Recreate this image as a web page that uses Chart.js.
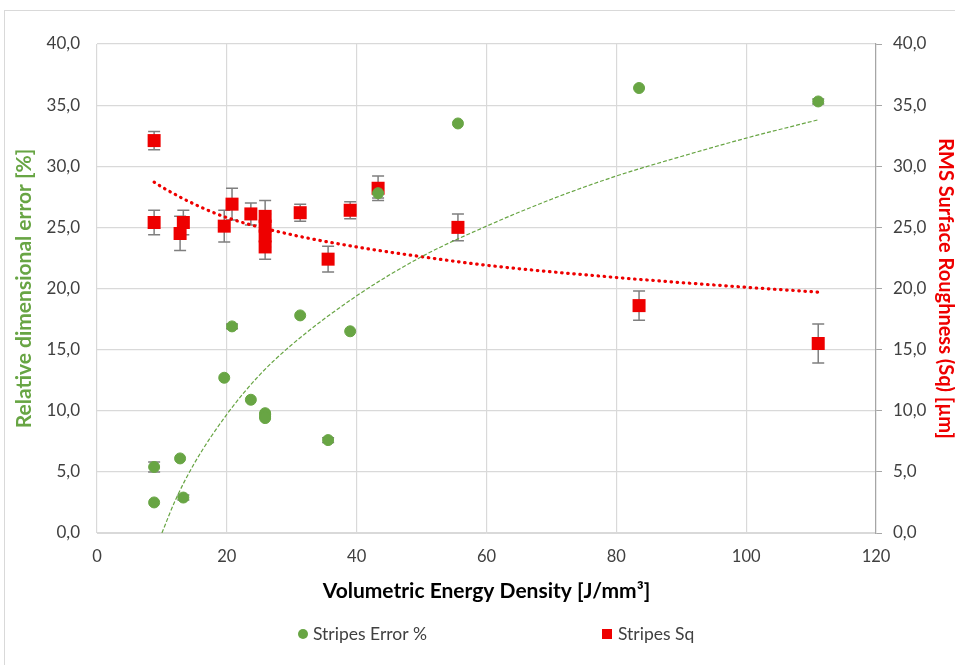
<!DOCTYPE html>
<html>
<head>
<meta charset="utf-8">
<script src="https://cdn.jsdelivr.net/npm/chart.js@4.4.1/dist/chart.umd.min.js"></script>
<style>
  html, body { margin: 0; padding: 0; background: #fff; overflow: hidden; }
  #wrap { position: relative; width: 955px; height: 665px; }
  #frame { position: absolute; left: 4px; top: 10px; width: 1000px; height: 700px; border: 1px solid #d9d9d9; }
  canvas { position: absolute; left: 0; top: 0; }
</style>
</head>
<body>
<div id="wrap">
  <div id="frame"></div>
  <canvas id="grafico" width="955" height="665"></canvas>
</div>
<script>
// energy density of each sample [J/mm3]
const energia = [8.8, 8.8, 12.8, 13.3, 19.6, 20.8, 23.7, 25.9, 25.9, 25.9, 25.9, 31.3, 35.6, 39.0, 43.3, 55.6, 83.5, 111.1];
// relative dimensional error [%] and its deviation
const errorPct = [5.4, 2.5, 6.1, 2.9, 12.7, 16.9, 10.9, 9.8, 9.7, 9.5, 9.4, 17.8, 7.6, 16.5, 27.8, 33.5, 36.4, 35.3];
const errorPctDev = [0.4, 0, 0, 0.2, 0, 0.2, 0, 0, 0, 0, 0, 0, 0.2, 0, 0.4, 0, 0, 0.2];
// RMS surface roughness Sq [um] and its deviation
const sq = [32.1, 25.4, 24.5, 25.4, 25.1, 26.9, 26.1, 25.9, 25.1, 24.3, 23.4, 26.2, 22.4, 26.4, 28.2, 25.0, 18.6, 15.5];
const sqDev = [0.75, 1.0, 1.4, 1.0, 1.3, 1.3, 0.9, 1.3, 1.0, 0.9, 1.0, 0.7, 1.05, 0.7, 1.0, 1.1, 1.2, 1.6];

// logarithmic trendlines, values
const tendErrorX = [10.0, 12, 15, 20, 25, 30, 40, 50, 60, 70, 80, 90, 100, 111.1];
const tendErrorY = [0.0, 2.6, 5.7, 9.7, 12.9, 15.4, 19.4, 22.6, 25.1, 27.3, 29.2, 30.8, 32.3, 33.8];
const tendSqX = [8.8, 10, 15, 20, 30, 40, 50, 60, 80, 100, 111.1];
const tendSqY = [28.7, 28.3, 26.9, 25.8, 24.4, 23.4, 22.6, 21.9, 20.9, 20.1, 19.7];

const xTicks = [0, 20, 40, 60, 80, 100, 120];

const verde = '#68a544';
const rojo = '#ee0000';
const fuente = 'Lato, "Open Sans", sans-serif';

const puntos = (xs, ys) => xs.map((x, i) => ({ x, y: ys[i] }));
const coma = v => Number(v).toFixed(1).replace('.', ',');

const barrasError = {
  id: 'barrasError',
  beforeDatasetsDraw(chart) {
    const ctx = chart.ctx;
    const xs = chart.scales.x;
    ctx.save();
    ctx.strokeStyle = '#7f7f7f';
    ctx.lineWidth = 1.5;
    chart.data.datasets.forEach(ds => {
      if (!ds.desvio) return;
      const ys = chart.scales[ds.yAxisID];
      ds.data.forEach((p, i) => {
        const d = ds.desvio[i];
        if (!d) return;
        const px = xs.getPixelForValue(p.x);
        const top = ys.getPixelForValue(p.y + d);
        const bot = ys.getPixelForValue(p.y - d);
        ctx.beginPath();
        ctx.moveTo(px, top); ctx.lineTo(px, bot);
        ctx.moveTo(px - 6, top); ctx.lineTo(px + 6, top);
        ctx.moveTo(px - 6, bot); ctx.lineTo(px + 6, bot);
        ctx.stroke();
      });
    });
    ctx.restore();
  }
};

const leyenda = {
  id: 'leyenda',
  afterDraw(chart) {
    const ctx = chart.ctx;
    const y = 634;
    const d0 = chart.data.datasets[0], d1 = chart.data.datasets[1];
    ctx.save();
    ctx.font = '17.5px ' + fuente;
    ctx.textBaseline = 'middle';
    ctx.beginPath();
    ctx.fillStyle = verde;
    ctx.arc(303, y, 5, 0, Math.PI * 2);
    ctx.fill();
    ctx.fillStyle = '#404040';
    ctx.fillText(d0.label, 313, y);
    ctx.fillStyle = rojo;
    ctx.fillRect(602, y - 5, 10, 10);
    ctx.fillStyle = '#404040';
    ctx.fillText(d1.label, 618, y);
    ctx.restore();
  }
};

new Chart(document.getElementById('grafico'), {
  type: 'scatter',
  data: {
    datasets: [
      {
        label: 'Stripes Error %',
        data: puntos(energia, errorPct),
        desvio: errorPctDev,
        yAxisID: 'y',
        backgroundColor: verde,
        borderColor: verde,
        pointRadius: 5.5,
        pointStyle: 'circle',
        order: 0
      },
      {
        label: 'Stripes Sq',
        data: puntos(energia, sq),
        desvio: sqDev,
        yAxisID: 'y2',
        backgroundColor: rojo,
        borderColor: rojo,
        pointRadius: 9.2,
        pointStyle: 'rect',
        borderWidth: 0,
        order: 0
      },
      {
        label: 'Log. (Stripes Error %)',
        type: 'line',
        data: puntos(tendErrorX, tendErrorY),
        yAxisID: 'y',
        borderColor: verde,
        borderWidth: 1.2,
        borderDash: [4, 2],
        pointRadius: 0,
        cubicInterpolationMode: 'monotone',
        fill: false,
        order: 1
      },
      {
        label: 'Log. (Stripes Sq)',
        type: 'line',
        data: puntos(tendSqX, tendSqY),
        yAxisID: 'y2',
        borderColor: rojo,
        borderWidth: 3.2,
        borderDash: [0.5, 5.6],
        borderCapStyle: 'round',
        pointRadius: 0,
        cubicInterpolationMode: 'monotone',
        fill: false,
        order: 1
      }
    ]
  },
  options: {
    responsive: false,
    animation: false,
    layout: { padding: { left: 8, right: 0, top: 44, bottom: 52 } },
    plugins: { legend: { display: false }, tooltip: { enabled: false } },
    scales: {
      x: {
        type: 'linear',
        min: 0, max: 120,
        afterBuildTicks: s => { s.ticks = xTicks.map(v => ({ value: v })); },
        afterFit: s => { s.height = 80; },
        grid: { color: '#d9d9d9', lineWidth: 1.2, drawTicks: false },
        border: { color: '#d9d9d9' },
        ticks: { padding: 14, color: '#404040', font: { family: fuente, size: 16.5 } },
        title: {
          display: true,
          text: 'Volumetric Energy Density [J/mm³]',
          color: '#000',
          font: { family: fuente, size: 21, weight: 'bold' },
          padding: { top: 0, bottom: 9 }
        }
      },
      y: {
        position: 'left',
        min: 0, max: 40,
        afterFit: s => { s.width = 89; },
        grid: { color: '#d9d9d9', lineWidth: 1.2, drawTicks: false },
        border: { display: false },
        ticks: { stepSize: 5, padding: 17, callback: coma, color: '#404040', font: { family: fuente, size: 17 } },
        title: {
          display: true,
          text: 'Relative dimensional error [%]',
          color: verde,
          font: { family: fuente, size: 21, weight: 'bold' },
          padding: { top: 4, bottom: 4 }
        }
      },
      y2: {
        position: 'right',
        min: 0, max: 40,
        afterFit: s => { s.width = 79; },
        grid: { drawOnChartArea: false, color: '#a6a6a6', tickLength: 6 },
        border: { color: '#a6a6a6', width: 1.2 },
        ticks: { stepSize: 5, padding: 11, callback: coma, color: '#404040', font: { family: fuente, size: 17 } },
        title: {
          display: true,
          text: 'RMS Surface Roughness (Sq) [µm]',
          color: rojo,
          font: { family: fuente, size: 20, weight: 'bold', lineHeight: 1 },
          padding: { top: 0, bottom: 0 }
        }
      }
    }
  },
  plugins: [barrasError, leyenda]
});
</script>
</body>
</html>
